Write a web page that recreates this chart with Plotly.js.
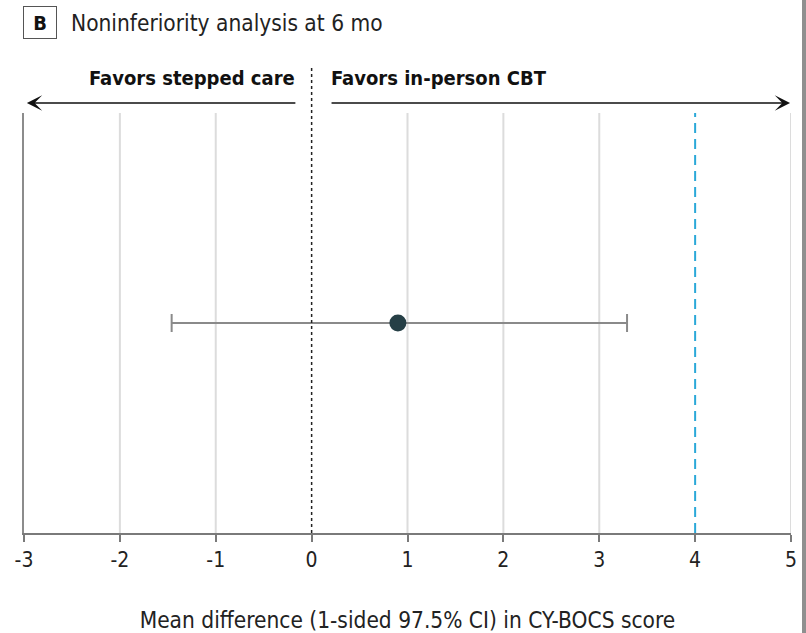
<!DOCTYPE html>
<html>
<head>
<meta charset="utf-8">
<script src="https://cdn.plot.ly/plotly-3.0.1.min.js"></script>
<style>html,body{margin:0;padding:0;background:#fff;}#chart{width:806px;height:633px;}</style>
</head>
<body>
<div id="chart"></div>
<script>
// Data
var estimateLabel = ["Stepped care vs in-person CBT"];
var meanDiff = [0.9];
var ciLower = [-1.46];
var ciUpper = [3.29];
var noninferiorityMargin = 4;
var nullValue = 0;
var tickValues = [-3, -2, -1, 0, 1, 2, 3, 4, 5];
var tickLabels = ["-3", "-2", "-1", "0", "1", "2", "3", "4", "5"];
var gridValues = [-2, -1, 1, 2, 3, 5];
var xRange = [-3, 5];

var FONT = '"Liberation Sans Narrow", "DejaVu Sans Condensed", "Roboto Condensed", "Open Sans", sans-serif';

var trace = {
  type: 'scatter',
  mode: 'markers',
  x: meanDiff,
  y: [0.5],
  text: estimateLabel,
  hoverinfo: 'x+text',
  marker: {size: 17, color: '#263f46'},
  error_x: {
    type: 'data',
    symmetric: false,
    array: meanDiff.map(function (m, i) { return ciUpper[i] - m; }),
    arrayminus: meanDiff.map(function (m, i) { return m - ciLower[i]; }),
    color: '#8a8a8a',
    thickness: 2,
    width: 9
  },
  showlegend: false
};

var shapes = gridValues.map(function (v) {
  return {type: 'line', xref: 'x', yref: 'paper', x0: v, x1: v, y0: 0, y1: 1,
          line: {color: '#dcdcdc', width: 2}, layer: 'below'};
});
shapes.push(
  // noninferiority margin
  {type: 'line', xref: 'x', yref: 'paper', x0: noninferiorityMargin, x1: noninferiorityMargin, y0: 0, y1: 1,
   line: {color: '#2ba8d8', width: 2, dash: '10px,6px'}, layer: 'above'},
  // null line
  {type: 'line', xref: 'x', yref: 'paper', x0: nullValue, x1: nullValue, y0: 0, y1: 1.114,
   line: {color: '#222', width: 1.5, dash: 'dot'}, layer: 'above'},
  // right edge frame
  {type: 'rect', xref: 'paper', yref: 'paper', x0: (802 - 24) / 767, x1: (810 - 24) / 767, y0: -0.3, y1: 1.3,
   line: {width: 0}, fillcolor: '#8f8f8f', layer: 'above'}
);

var layout = {
  width: 806,
  height: 633,
  margin: {l: 24, r: 15, t: 113, b: 100},
  paper_bgcolor: '#ffffff',
  plot_bgcolor: '#ffffff',
  font: {family: FONT, color: '#222'},
  xaxis: {
    range: xRange,
    tickvals: tickValues,
    ticktext: tickLabels,
    showgrid: false,
    zeroline: false,
    showline: true,
    linecolor: '#7a7a7a',
    linewidth: 2,
    ticks: 'outside',
    ticklen: 7,
    tickwidth: 2,
    tickcolor: '#7a7a7a',
    tickfont: {size: 21, family: FONT, color: '#222'},
    title: {
      text: 'Mean difference (1-sided 97.5% CI) in CY-BOCS score',
      font: {size: 22.5, family: FONT, color: '#222'},
      standoff: 45
    },
    automargin: false,
    fixedrange: true
  },
  yaxis: {
    range: [0, 1],
    showgrid: false,
    zeroline: false,
    showticklabels: false,
    showline: true,
    linecolor: '#8c8c8c',
    linewidth: 2,
    ticks: '',
    fixedrange: true
  },
  shapes: shapes,
  annotations: [
    // panel letter box
    {xref: 'paper', yref: 'paper', x: (40 - 24) / 767, y: (533 - 22.5) / 420, xanchor: 'center', yanchor: 'middle',
     text: '<b>B</b>', showarrow: false, font: {size: 20, family: FONT, color: '#111'},
     width: 32, height: 31, bordercolor: '#555', borderwidth: 1, borderpad: 0, bgcolor: '#fff'},
    {xref: 'paper', yref: 'paper', x: (69 - 24) / 767, y: (533 - 23) / 420, xanchor: 'left', yanchor: 'middle',
     text: 'Noninferiority analysis at 6 mo', showarrow: false, font: {size: 22.5, family: FONT, color: '#222'}},
    // direction labels
    {xref: 'x', yref: 'paper', x: nullValue, y: (533 - 78) / 420, xanchor: 'right', yanchor: 'middle', xshift: -15,
     text: '<b>Favors stepped care</b>', showarrow: false, font: {size: 20, family: FONT, color: '#111'}},
    {xref: 'x', yref: 'paper', x: nullValue, y: (533 - 78) / 420, xanchor: 'left', yanchor: 'middle', xshift: 17,
     text: '<b>Favors in-person CBT</b>', showarrow: false, font: {size: 20, family: FONT, color: '#111'}},
    // arrows
    {xref: 'x', yref: 'paper', x: xRange[0] + 0.03, y: (533 - 103) / 420, ax: 270, ay: 0, axref: 'pixel', ayref: 'pixel',
     text: '', showarrow: true, arrowhead: 3, arrowsize: 1.7, arrowwidth: 1.5, arrowcolor: '#111', standoff: 0},
    {xref: 'x', yref: 'paper', x: xRange[1] - 0.01, y: (533 - 103) / 420, ax: -460, ay: 0, axref: 'pixel', ayref: 'pixel',
     text: '', showarrow: true, arrowhead: 3, arrowsize: 1.7, arrowwidth: 1.5, arrowcolor: '#111', standoff: 0}
  ]
};

Plotly.newPlot('chart', [trace], layout, {displayModeBar: false, staticPlot: true});
</script>
</body>
</html>
